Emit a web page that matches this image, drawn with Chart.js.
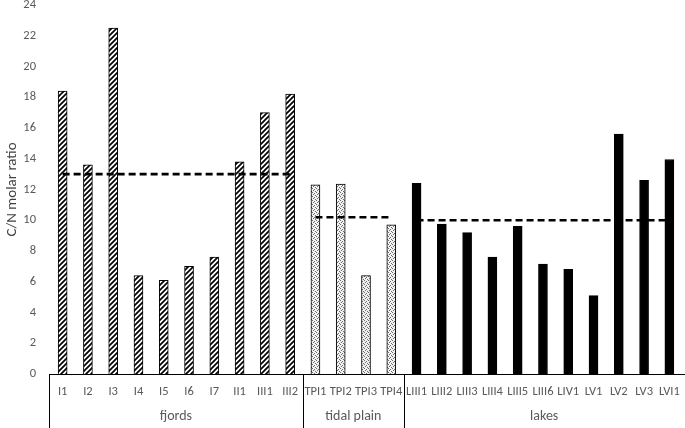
<!DOCTYPE html>
<html lang="en">
<head>
    <meta charset="UTF-8">
    <title>C/N molar ratio</title>
    <script src="https://cdn.jsdelivr.net/npm/chart.js"></script>
    <style>
        body { margin: 0; background: #fff; overflow: hidden; }
        canvas { display: block; }
    </style>
</head>
<body>
    <canvas id="cnChart" width="685" height="428"></canvas>

    <script>
        // data
        const categories = ['I1', 'I2', 'I3', 'I4', 'I5', 'I6', 'I7', 'II1', 'III1', 'III2',
            'TPI1', 'TPI2', 'TPI3', 'TPI4',
            'LIII1', 'LIII2', 'LIII3', 'LIII4', 'LIII5', 'LIII6', 'LIV1', 'LV1', 'LV2', 'LV3', 'LVI1'];
        const cnRatio = [18.4, 13.6, 22.5, 6.4, 6.1, 7.0, 7.6, 13.8, 17.0, 18.2,
            12.3, 12.35, 6.4, 9.7,
            12.4, 9.75, 9.2, 7.6, 9.6, 7.15, 6.8, 5.1, 15.6, 12.6, 13.95];
        const groupNames = ['fjords', 'tidal plain', 'lakes'];
        const groupSizes = [10, 4, 11];
        const groupMeans = [13.0, 10.2, 10.0];
        const yMin = 0, yMax = 24, yStep = 2;

        const fontFamily = "Carlito, Calibri, Lato, 'Open Sans', sans-serif";
        const textGrey = '#595959';

        // fill patterns
        function hatchPattern() {
            const c = document.createElement('canvas');
            c.width = 5; c.height = 5;
            const g = c.getContext('2d');
            g.fillStyle = '#fff';
            g.fillRect(0, 0, 5, 5);
            g.strokeStyle = '#000';
            g.lineWidth = 1.7;
            g.beginPath();
            g.moveTo(0, 5); g.lineTo(5, 0);
            g.moveTo(-1, 1); g.lineTo(1, -1);
            g.moveTo(4, 6); g.lineTo(6, 4);
            g.stroke();
            return g.createPattern(c, 'repeat');
        }

        function stipplePattern() {
            const c = document.createElement('canvas');
            c.width = 4; c.height = 4;
            const g = c.getContext('2d');
            g.fillStyle = '#f2f2f2';
            g.fillRect(0, 0, 4, 4);
            g.fillStyle = '#6a6a6a';
            [[0, 0], [2, 1], [1, 2], [3, 3]].forEach(p => g.fillRect(p[0], p[1], 1, 1));
            return g.createPattern(c, 'repeat');
        }

        const groupFills = [hatchPattern(), stipplePattern(), '#000'];

        // per-bar fill and group index
        const barFills = [];
        const groupStart = [];
        let idx = 0;
        groupSizes.forEach((n, gi) => {
            groupStart.push(idx);
            for (let k = 0; k < n; k++) barFills.push(groupFills[gi]);
            idx += n;
        });

        // dashed group mean lines
        const meanDatasets = groupMeans.map((m, gi) => {
            const d = categories.map(() => null);
            for (let k = 0; k < groupSizes[gi]; k++) d[groupStart[gi] + k] = m;
            return {
                type: 'line',
                data: d,
                borderColor: '#000',
                borderWidth: 2.6,
                borderDash: [7, 4],
                pointRadius: 0,
                fill: false,
                spanGaps: false,
                order: 0
            };
        });

        // group labels and separators under the axis
        const groupAxis = {
            id: 'groupAxis',
            afterDraw(chart) {
                const { ctx, chartArea } = chart;
                const x = chart.scales.x;
                const bottom = chart.height;
                const edges = [chartArea.left - 1];
                groupSizes.forEach((n, gi) => {
                    const end = groupStart[gi] + n - 1;
                    if (end === categories.length - 1) edges.push(chart.width - 0.5);
                    else edges.push((x.getPixelForValue(end) + x.getPixelForValue(end + 1)) / 2);
                });
                ctx.save();
                ctx.strokeStyle = '#000';
                ctx.lineWidth = 1;
                // axis line spans a bit past the plot on both sides
                ctx.beginPath();
                ctx.moveTo(edges[0], chartArea.bottom + 0.5);
                ctx.lineTo(chart.width, chartArea.bottom + 0.5);
                ctx.stroke();
                edges.forEach(e => {
                    const px = Math.round(e) + 0.5;
                    ctx.beginPath();
                    ctx.moveTo(px, chartArea.bottom);
                    ctx.lineTo(px, bottom);
                    ctx.stroke();
                });
                ctx.fillStyle = textGrey;
                ctx.font = '14px ' + fontFamily;
                ctx.textAlign = 'center';
                ctx.textBaseline = 'middle';
                groupNames.forEach((name, gi) => {
                    ctx.fillText(name, (edges[gi] + edges[gi + 1]) / 2, 416);
                });
                ctx.restore();
            }
        };

        new Chart(document.getElementById('cnChart'), {
            type: 'bar',
            data: {
                labels: categories,
                datasets: [{
                    type: 'bar',
                    data: cnRatio,
                    backgroundColor: barFills,
                    borderColor: '#000',
                    borderWidth: 1,
                    barThickness: 9,
                    order: 2
                }, ...meanDatasets]
            },
            options: {
                responsive: false,
                animation: false,
                devicePixelRatio: 1,
                layout: { padding: { top: 5, right: 3, left: 0, bottom: 0 } },
                plugins: {
                    legend: { display: false },
                    tooltip: { enabled: false }
                },
                scales: {
                    x: {
                        grid: { display: false, drawTicks: false },
                        border: { display: false },
                        ticks: {
                            color: textGrey,
                            font: { family: fontFamily, size: 12.5 },
                            padding: 10,
                            maxRotation: 0,
                            autoSkip: false
                        },
                        afterFit(s) { s.height = 54; s.paddingLeft = 0; s.paddingRight = 0; }
                    },
                    y: {
                        min: yMin,
                        max: yMax,
                        grid: { display: false, drawTicks: false },
                        border: { display: false },
                        ticks: {
                            stepSize: yStep,
                            color: textGrey,
                            font: { family: fontFamily, size: 12.5 },
                            padding: 14
                        },
                        title: {
                            display: true,
                            text: 'C/N molar ratio',
                            color: '#404040',
                            font: { family: fontFamily, size: 15 },
                            padding: { top: 3, bottom: 0 }
                        },
                        afterFit(s) { s.width = 50; s.paddingTop = 0; s.paddingBottom = 0; }
                    }
                }
            },
            plugins: [groupAxis]
        });
    </script>
</body>
</html>
